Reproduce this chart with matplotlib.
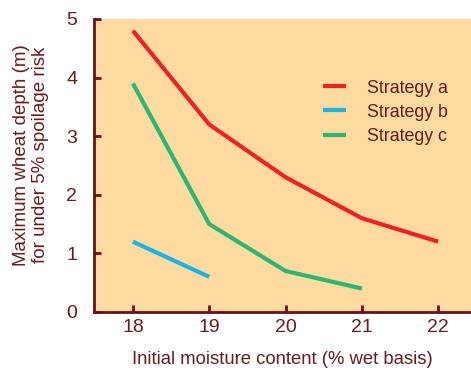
import matplotlib
matplotlib.use("Agg")
import matplotlib.pyplot as plt

moisture = [18, 19, 20, 21, 22]
strategy_a = [4.8, 3.2, 2.3, 1.6, 1.2]
moisture_b = [18, 19]
strategy_b = [1.2, 0.6]
moisture_c = [18, 19, 20, 21]
strategy_c = [3.9, 1.5, 0.7, 0.4]
x_ticks = [18, 19, 20, 21, 22]
y_ticks = [0, 1, 2, 3, 4, 5]

plt.rcParams['font.family'] = ['Liberation Sans', 'DejaVu Sans']
txt = '#6B1A1E'
spine = '#6B1018'

fig = plt.figure(figsize=(4.71, 3.70), dpi=100)
ax = fig.add_axes([94/471, 58/370, 1 - 94/471, (312-19)/370])
ax.set_facecolor('#FDDBA0')

ax.plot(moisture, strategy_a, color='#EE2129', lw=3, label='Strategy a', solid_capstyle='butt')
ax.plot(moisture_b, strategy_b, color='#18B4EA', lw=3, label='Strategy b', solid_capstyle='butt')
ax.plot(moisture_c, strategy_c, color='#2BB673', lw=3, label='Strategy c', solid_capstyle='butt')

ax.set_xlim(17.49, 22.43)
ax.set_ylim(0, 5)
ax.set_xticks(x_ticks)
ax.set_yticks(y_ticks)
for s in ['top', 'right']:
    ax.spines[s].set_visible(False)
for s in ['left', 'bottom']:
    ax.spines[s].set_color(spine)
    ax.spines[s].set_linewidth(2)
ax.tick_params(axis='both', direction='in', length=5, width=2, color=spine,
               labelcolor=txt, labelsize=14)
ax.tick_params(axis='y', pad=12)
ax.tick_params(axis='x', pad=5)

ax.set_xlabel('Initial moisture content (% wet basis)', color=txt, fontsize=13.3, labelpad=11)
ax.set_ylabel('Maximum wheat depth (m)\nfor under 5% spoilage risk', color=txt, fontsize=13.5,
              linespacing=1.12)
ax.yaxis.set_label_coords(-0.12, 0.535)

leg = ax.legend(loc='upper left', bbox_to_anchor=(0.564, 0.848), frameon=False,
                fontsize=12.8, handlelength=1.33, handletextpad=1.17, labelspacing=0.4)
for t in leg.get_texts():
    t.set_color(txt)

fig.savefig('out.png', dpi=100)
